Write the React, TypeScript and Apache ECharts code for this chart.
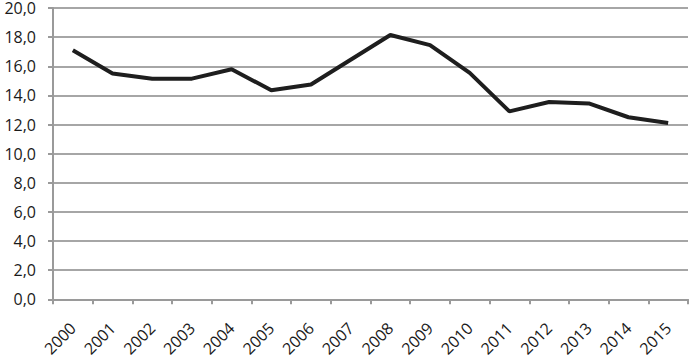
import React, { useEffect, useRef } from "react";
import * as echarts from "echarts";

const years = ["2000","2001","2002","2003","2004","2005","2006","2007","2008","2009","2010","2011","2012","2013","2014","2015"];
const values = [17.1, 15.5, 15.15, 15.15, 15.8, 14.35, 14.75, 16.45, 18.15, 17.45, 15.55, 12.9, 13.55, 13.45, 12.5, 12.1];

export default function App() {
  const ref = useRef<HTMLDivElement>(null);
  useEffect(() => {
    const chart = echarts.init(ref.current!, undefined, { renderer: "svg" });
    chart.setOption({
      animation: false,
      grid: { left: 53, right: 1, top: 7, bottom: 57, containLabel: false },
      xAxis: {
        type: "category",
        data: years,
        boundaryGap: true,
        axisLine: { lineStyle: { color: "#9a9a9a", width: 2 } },
        axisTick: { show: true, alignWithLabel: false, length: 5, lineStyle: { color: "#9a9a9a", width: 2 } },
        axisLabel: { rotate: 45, margin: 26, fontFamily: "Open Sans", fontSize: 16, color: "#1a1a1a", interval: 0 },
      },
      yAxis: {
        type: "value",
        min: 0,
        max: 20,
        interval: 2,
        axisLine: { show: true, lineStyle: { color: "#9a9a9a", width: 2 } },
        axisTick: { show: true, length: 5, lineStyle: { color: "#9a9a9a", width: 2 } },
        splitLine: { lineStyle: { color: "#a6a6a6", width: 2 } },
        axisLabel: {
          margin: 17,
          fontFamily: "Open Sans",
          fontSize: 16,
          color: "#1a1a1a",
          formatter: (v: number) => v.toFixed(1).replace(".", ","),
        },
      },
      series: [
        {
          type: "line",
          data: values,
          symbol: "none",
          lineStyle: { color: "#1e1e1e", width: 4 },
        },
      ],
    });
    return () => chart.dispose();
  }, []);
  return <div ref={ref} style={{ width: 689, height: 359, position: "absolute", left: 0, top: 0 }} />;
}
